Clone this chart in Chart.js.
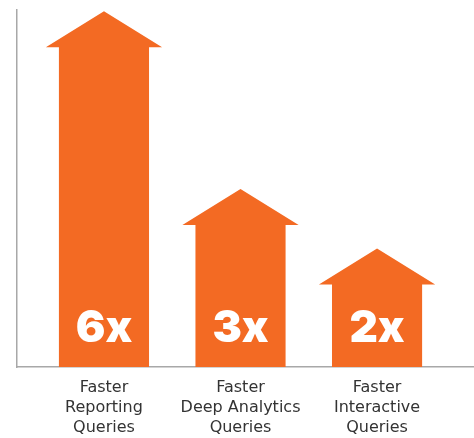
<!DOCTYPE html>
<html>
<head>
<meta charset="utf-8">
<script src="https://cdn.jsdelivr.net/npm/chart.js@4.4.1/dist/chart.umd.min.js"></script>
<style>
    html, body { margin: 0; padding: 0; background: #fff; }
    #wrap { width: 474px; height: 438px; }
</style>
</head>
<body>
<div id="wrap"><canvas id="chart" width="474" height="438"></canvas></div>
<script>
// Speed-up factors, one arrow per category
const categories = [
    ['Faster', 'Reporting', 'Queries'],
    ['Faster', 'Deep Analytics', 'Queries'],
    ['Faster', 'Interactive', 'Queries']
];
const speedup = [6, 3, 2];
const speedupLabels = ['6x', '3x', '2x'];

const ORANGE = '#F36A23';
const AXIS = '#a8a8a8';

// Draw each bar as an up arrow (tip sits at the value)
const arrowPlugin = {
    id: 'arrows',
    afterDatasetsDraw(chart) {
        const ctx = chart.ctx;
        const meta = chart.getDatasetMeta(0);
        meta.data.forEach((bar, i) => {
            const half = bar.width / 2;
            const headHalf = half * 1.29;
            const headH = 36;
            const neck = bar.y + headH;
            ctx.save();
            ctx.fillStyle = ORANGE;
            ctx.beginPath();
            ctx.moveTo(bar.x, bar.y);
            ctx.lineTo(bar.x + headHalf, neck);
            ctx.lineTo(bar.x + half, neck);
            ctx.lineTo(bar.x + half, bar.base);
            ctx.lineTo(bar.x - half, bar.base);
            ctx.lineTo(bar.x - half, neck);
            ctx.lineTo(bar.x - headHalf, neck);
            ctx.closePath();
            ctx.fill();

            ctx.fillStyle = '#fff';
            ctx.font = '900 44px Inter, Roboto, sans-serif';
            ctx.textAlign = 'center';
            ctx.textBaseline = 'alphabetic';
            ctx.fillText(speedupLabels[i], bar.x, bar.base - 25);
            ctx.restore();
        });
    }
};

new Chart(document.getElementById('chart'), {
    type: 'bar',
    data: {
        datasets: [{
            data: speedup.map((v, i) => ({ x: i, y: v })),
            backgroundColor: 'rgba(0,0,0,0)',
            barPercentage: 1,
            categoryPercentage: 0.66
        }]
    },
    options: {
        responsive: false,
        animation: false,
        devicePixelRatio: 1,
        layout: { padding: { left: 17, top: 10, right: 0, bottom: 0 } },
        plugins: { legend: { display: false }, tooltip: { enabled: false } },
        scales: {
            x: {
                type: 'linear',
                offset: false,
                bounds: 'data',
                min: -0.637,
                max: 2.71,
                afterBuildTicks: s => { s.ticks = categories.map((_, i) => ({ value: i })); },
                afterFit: s => { s.height = 71; },
                grid: { display: false, drawTicks: false },
                border: { display: true, color: AXIS, width: 1.5 },
                ticks: {
                    callback: v => categories[v] || '',
                    color: '#333',
                    padding: 11,
                    maxRotation: 0,
                    autoSkip: false,
                    font: { family: '"DejaVu Sans", sans-serif', size: 16, lineHeight: 1.25 }
                }
            },
            y: {
                min: 0,
                max: 6.02,
                grid: { display: false, drawTicks: false },
                border: { display: true, color: AXIS, width: 1.5 },
                ticks: { display: false }
            }
        }
    },
    plugins: [arrowPlugin]
});
</script>
</body>
</html>
